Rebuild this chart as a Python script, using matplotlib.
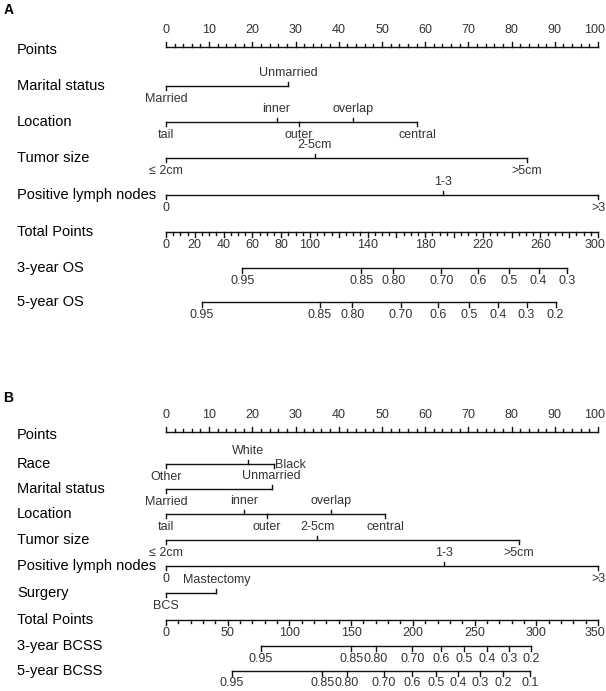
import matplotlib as mpl
mpl.use('agg')
import matplotlib.pyplot as plt

# ---- data (points / total points) ----
points_ticks = list(range(0, 101, 10))

a_marital_labels = ['Married', 'Unmarried']
a_marital_pts = [0, 28.3]
a_location_labels = ['tail', 'inner', 'outer', 'overlap', 'central']
a_location_pts = [0, 25.6, 30.8, 43.2, 58.2]
a_tumor_labels = ['≤ 2cm', '2-5cm', '>5cm']
a_tumor_pts = [0, 34.4, 83.5]
a_nodes_labels = ['0', '1-3', '>3']
a_nodes_pts = [0, 64.2, 100]
a_total_max = 300
a_total_labels = [0, 20, 40, 60, 80, 100, 140, 180, 220, 260, 300]
a_os3_labels = ['0.95', '0.85', '0.80', '0.70', '0.6', '0.5', '0.4', '0.3']
a_os3_total = [53.0, 135.5, 157.8, 191.2, 217.0, 238.3, 258.7, 278.5]
a_os5_labels = ['0.95', '0.85', '0.80', '0.70', '0.6', '0.5', '0.4', '0.3', '0.2']
a_os5_total = [25.0, 107.0, 129.5, 163.0, 188.7, 210.5, 230.5, 250.4, 270.5]

b_race_labels = ['Other', 'White', 'Black']
b_race_pts = [0, 19.1, 25.0]
b_marital_labels = ['Married', 'Unmarried']
b_marital_pts = [0, 24.5]
b_location_labels = ['tail', 'inner', 'outer', 'overlap', 'central']
b_location_pts = [0, 18.1, 23.3, 38.3, 50.8]
b_tumor_labels = ['≤ 2cm', '2-5cm', '>5cm']
b_tumor_pts = [0, 35.0, 81.7]
b_nodes_labels = ['0', '1-3', '>3']
b_nodes_pts = [0, 64.3, 100]
b_surgery_labels = ['BCS', 'Mastectomy']
b_surgery_pts = [0, 11.7]
b_total_max = 350
b_total_labels = list(range(0, 351, 50))
b_bcss3_labels = ['0.95', '0.85', '0.80', '0.70', '0.6', '0.5', '0.4', '0.3', '0.2']
b_bcss3_total = [77.0, 150.3, 170.1, 199.7, 223.0, 241.8, 260.4, 278.3, 295.9]
b_bcss5_labels = ['0.95', '0.85', '0.80', '0.70', '0.6', '0.5', '0.4', '0.3', '0.2', '0.1']
b_bcss5_total = [53.5, 126.7, 146.5, 176.4, 199.7, 218.6, 236.8, 254.7, 273.0, 295.0]

plt.rcParams['font.family'] = ['Liberation Sans', 'DejaVu Sans']
LC = '#111111'
TC = '#333333'
ROW_FS = 10.5
TICK_FS = 9
LW = 1.0
XMAX = 101.85

fig = plt.figure(figsize=(6.06, 6.91), dpi=100)
ax = fig.add_axes([0, 0, 1, 1])
ax.set_xlim(-38.4, XMAX)
ax.set_ylim(691, 0)
ax.axis('off')


def tick_text(x, y, s):
    # keep labels at the right end inside the figure
    if x >= 99.5:
        ax.text(XMAX - 0.2, y, s, fontsize=TICK_FS, ha='right', va='center', color=TC)
    else:
        ax.text(x, y, s, fontsize=TICK_FS, ha='center', va='center', color=TC)


def row_label(y, text):
    ax.text(-34.5, y, text, fontsize=ROW_FS, ha='left', va='center', color='black')


def points_axis(y):
    row_label(y + 3, 'Points')
    ax.plot([0, 100], [y, y], color=LC, lw=LW)
    for v in range(0, 101, 2):
        ln = 5 if v % 10 == 0 else 3
        ax.plot([v, v], [y, y - ln], color=LC, lw=LW)
    for v in points_ticks:
        tick_text(v, y - 17, str(v))


def cat_axis(y, name, labels, pts, side_last=False):
    row_label(y, name)
    ax.plot([min(pts), max(pts)], [y, y], color=LC, lw=LW)
    for i, (lab, p) in enumerate(zip(labels, pts)):
        if side_last and i == len(labels) - 1:
            ax.plot([p, p], [y, y + 4], color=LC, lw=LW)
            ax.text(p + 0.3, y + 1, lab, fontsize=TICK_FS, ha='left', va='center', color=TC)
        elif i % 2 == 0:
            ax.plot([p, p], [y, y + 4], color=LC, lw=LW)
            tick_text(p, y + 13, lab)
        else:
            ax.plot([p, p], [y, y - 4], color=LC, lw=LW)
            tick_text(p, y - 13, lab)


def total_axis(y, tmax, labels, minor, major):
    row_label(y, 'Total Points')
    sc = 100.0 / tmax
    ax.plot([0, 100], [y, y], color=LC, lw=LW)
    for v in range(0, tmax + 1, minor):
        ln = 5 if v % major == 0 else 3
        ax.plot([v * sc, v * sc], [y, y + ln], color=LC, lw=LW)
    for v in labels:
        tick_text(v * sc, y + 13, str(v))


def surv_axis(y, name, labels, totals, tmax, off=13):
    row_label(y, name)
    sc = 100.0 / tmax
    xs = [t * sc for t in totals]
    ax.plot([min(xs), max(xs)], [y, y], color=LC, lw=LW)
    for lab, x in zip(labels, xs):
        ax.plot([x, x], [y, y + 5], color=LC, lw=LW)
        tick_text(x, y + off, lab)


# ---- panel A ----
ax.text(-37.6, 10, 'A', fontsize=10, fontweight='bold', ha='left', va='center')
points_axis(47)
cat_axis(86, 'Marital status', a_marital_labels, a_marital_pts)
cat_axis(122, 'Location', a_location_labels, a_location_pts)
cat_axis(158, 'Tumor size', a_tumor_labels, a_tumor_pts)
cat_axis(195, 'Positive lymph nodes', a_nodes_labels, a_nodes_pts)
total_axis(232, a_total_max, a_total_labels, 5, 20)
surv_axis(268, '3-year OS', a_os3_labels, a_os3_total, a_total_max)
surv_axis(302, '5-year OS', a_os5_labels, a_os5_total, a_total_max)

# ---- panel B ----
ax.text(-37.6, 398, 'B', fontsize=10, fontweight='bold', ha='left', va='center')
points_axis(432)
cat_axis(464, 'Race', b_race_labels, b_race_pts, side_last=True)
cat_axis(489, 'Marital status', b_marital_labels, b_marital_pts)
cat_axis(514, 'Location', b_location_labels, b_location_pts)
cat_axis(540, 'Tumor size', b_tumor_labels, b_tumor_pts)
cat_axis(566, 'Positive lymph nodes', b_nodes_labels, b_nodes_pts)
cat_axis(593, 'Surgery', b_surgery_labels, b_surgery_pts)
total_axis(620, b_total_max, b_total_labels, 10, 50)
surv_axis(646, '3-year BCSS', b_bcss3_labels, b_bcss3_total, b_total_max)
surv_axis(671, '5-year BCSS', b_bcss5_labels, b_bcss5_total, b_total_max, off=12)

fig.savefig('out.png', dpi=100)
